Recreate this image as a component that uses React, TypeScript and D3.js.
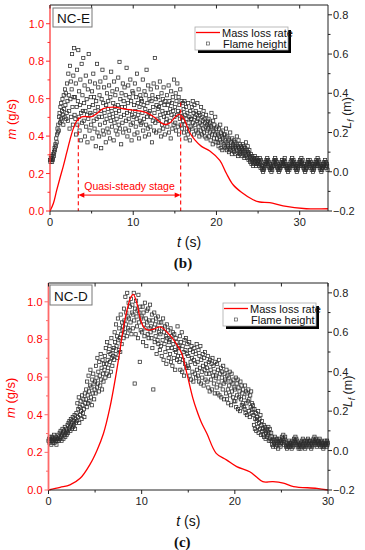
import * as d3 from "d3"

const FONT = "'Liberation Sans', Arial, sans-serif"
const SERIF = "'Liberation Serif', 'Times New Roman', serif"
const RED = "#ff0000"

// sampling step of the flame-height record (s)
const FLAME_DT = 0.05

// ---- (b) NC-E ----
const massTimeE = [0, 0.4, 0.8, 1.2, 1.6, 2.0, 2.4, 2.8, 3.2, 3.8, 5.0, 5.6, 6.4, 7.6, 9.2, 10.8, 11.6, 12.6, 13.4, 13.8, 14.4, 15.0, 15.5, 16.0, 16.8, 17.4, 18.2, 19.2, 20.4, 21.2, 22.0, 23.0, 24.4, 25.2, 26.4, 28.0, 30.8, 33.4]
const massRateE = [0, 0.04, 0.11, 0.176, 0.24, 0.31, 0.38, 0.44, 0.48, 0.503, 0.504, 0.52, 0.547, 0.555, 0.543, 0.534, 0.525, 0.498, 0.47, 0.462, 0.47, 0.5, 0.516, 0.498, 0.418, 0.38, 0.345, 0.32, 0.27, 0.2, 0.14, 0.1, 0.06, 0.048, 0.045, 0.027, 0.012, 0.012]
// flame height, cm
const flameE = [
  6, 5, 7, 6, 8, 5, 7, 6, 9, 8, 10, 12, 11, 14, 13, 17, 15, 19, 22, 20,
  24, 21, 28, 30, 25, 33, 27, 35, 26, 31, 37, 29, 24, 39, 32, 28, 42, 34, 40, 27,
  30, 45, 36, 26, 50, 39, 31, 22, 54, 37, 46, 28, 42, 60, 33, 24, 49, 38, 63, 29,
  38, 27, 45, 19, 33, 52, 24, 36, 62, 28, 41, 21, 34, 47, 16, 30, 55, 25, 39, 31,
  58, 26, 35, 44, 18, 31, 49, 23, 37, 29, 15, 42, 27, 60, 33, 21, 46, 30, 38, 24,
  29, 41, 17, 34, 50, 26, 38, 22, 45, 31, 13, 36, 27, 55, 20, 33, 43, 28, 18, 39,
  24, 46, 31, 12, 37, 28, 52, 21, 35, 19, 43, 30, 25, 48, 15, 34, 27, 40, 22, 32,
  36, 20, 44, 29, 17, 38, 26, 51, 31, 23, 41, 28, 35, 16, 46, 25, 33, 39, 21, 30,
  27, 42, 19, 34, 48, 24, 31, 56, 22, 37, 28, 14, 40, 33, 25, 45, 20, 36, 29, 43,
  33, 22, 39, 26, 53, 30, 18, 35, 44, 27, 21, 38, 31, 47, 24, 36, 16, 29, 41, 25,
  40, 28, 34, 19, 45, 31, 23, 38, 27, 50, 20, 35, 29, 42, 17, 33, 26, 39, 24, 37,
  25, 36, 30, 47, 21, 34, 27, 41, 18, 32, 39, 24, 52, 28, 35, 22, 44, 30, 19, 37,
  31, 23, 42, 28, 36, 15, 39, 26, 33, 45, 21, 30, 58, 25, 37, 20, 34, 43, 27, 32,
  38, 26, 33, 21, 46, 29, 35, 18, 40, 24, 31, 37, 22, 43, 28, 34, 19, 36, 30, 25,
  27, 39, 23, 34, 30, 44, 20, 36, 26, 32, 17, 41, 29, 35, 22, 38, 31, 24, 47, 28,
  33, 25, 40, 21, 36, 29, 45, 23, 31, 38, 19, 34, 27, 42, 24, 30, 36, 22, 28, 35,
  26, 32, 20, 36, 24, 29, 17, 33, 27, 22, 30, 19, 35, 25, 21, 28, 16, 31, 23, 27,
  27, 33, 22, 36, 25, 30, 19, 34, 28, 24, 31, 21, 29, 26, 35, 20, 27, 23, 30, 18,
  25, 29, 21, 33, 24, 19, 28, 26, 22, 31, 20, 27, 18, 25, 23, 29, 17, 24, 21, 26,
  22, 27, 18, 24, 20, 25, 16, 23, 30, 19, 22, 14, 26, 21, 17, 24, 19, 28, 15, 22,
  20, 17, 23, 15, 19, 13, 22, 18, 16, 24, 12, 20, 15, 18, 11, 21, 17, 14, 19, 13,
  16, 19, 12, 22, 15, 11, 18, 14, 13, 17, 10, 16, 12, 20, 11, 15, 13, 9, 17, 12,
  14, 11, 16, 10, 13, 15, 9, 12, 14, 18, 11, 13, 8, 16, 12, 10, 14, 9, 11, 13,
  10, 12, 8, 14, 11, 9, 13, 7, 10, 12, 8, 15, 9, 11, 7, 13, 10, 6, 9, 11,
  8, 5, 7, 9, 4, 6, 8, 5, 3, 7, 6, 4, 8, 5, 7, 3, 6, 4, 7, 5,
  4, 6, 3, 5, 7, 4, 2, 6, 5, 3, 1, 2, 0, 3, 1, 2, 4, 3, 5, 4,
  6, 5, 7, 4, 6, 3, 5, 2, 4, 1, 3, 2, 0, 2, 1, 3, 4, 5, 3, 6,
  5, 7, 4, 6, 3, 5, 2, 4, 1, 3, 0, 2, 1, 3, 2, 4, 5, 3, 6, 4,
  5, 3, 6, 4, 7, 5, 3, 4, 2, 3, 1, 2, 0, 2, 3, 1, 4, 2, 5, 3,
  6, 4, 7, 5, 3, 6, 4, 5, 2, 4, 3, 1, 2, 0, 3, 1, 2, 4, 3, 5,
  4, 6, 5, 3, 7, 5, 4, 6, 3, 2, 4, 1, 3, 0, 2, 1, 3, 2, 4, 5,
  6, 4, 5, 3, 6, 4, 2, 5, 3, 1, 4, 2, 0, 3, 1, 2, 4, 3, 5, 4,
  6, 5, 3, 7, 4, 6, 3, 5, 2, 4, 1, 3, 0, 2, 1, 3, 2, 4, 3, 5,
  4, 6, 3, 5, 2, 4, 3, 1,
]
// quasi-steady stage bounds (s) and the m value where each dashed line starts
const steadyT = [3.4, 15.7]
const steadyTop = [0.5, 0.58]

// ---- (c) NC-D ----
const massTimeD = [0, 1.25, 2.3, 3.4, 4.5, 5.2, 5.9, 6.6, 7.2, 7.6, 8.0, 8.4, 8.8, 9.1, 9.5, 9.8, 10.2, 10.7, 11.3, 12.0, 12.7, 13.4, 13.8, 14.3, 14.8, 15.5, 15.9, 16.4, 17.0, 18.0, 19.1, 20.2, 21.6, 22.3, 23.0, 24.1, 25.2, 26.3, 28.8, 30]
const massRateD = [0, 0.014, 0.027, 0.062, 0.14, 0.21, 0.3, 0.44, 0.6, 0.72, 0.85, 0.95, 1.02, 1.04, 0.99, 0.92, 0.867, 0.85, 0.855, 0.867, 0.84, 0.8, 0.77, 0.725, 0.63, 0.487, 0.425, 0.36, 0.3, 0.195, 0.16, 0.124, 0.097, 0.07, 0.044, 0.044, 0.036, 0.018, 0.009, 0]
const flameD = [
  5, 6, 4, 7, 5, 6, 3, 5, 7, 4, 6, 5, 8, 4, 6, 7, 5, 3, 6, 5,
  6, 8, 5, 7, 9, 6, 10, 7, 5, 8, 11, 9, 6, 10, 8, 12, 7, 9, 11, 8,
  10, 13, 9, 14, 11, 15, 12, 10, 16, 13, 11, 14, 17, 12, 15, 13, 18, 11, 16, 14,
  19, 15, 24, 17, 21, 27, 14, 22, 18, 25, 20, 16, 28, 23, 19, 26, 21, 17, 29, 24,
  26, 31, 22, 35, 28, 24, 38, 30, 25, 33, 41, 27, 32, 23, 36, 29, 39, 34, 26, 31,
  35, 29, 43, 37, 32, 47, 34, 40, 30, 45, 38, 33, 49, 36, 42, 31, 46, 39, 35, 44,
  41, 48, 37, 52, 44, 39, 55, 46, 42, 50, 38, 53, 45, 49, 40, 57, 47, 43, 51, 48,
  52, 46, 60, 55, 49, 64, 53, 58, 47, 67, 56, 51, 62, 57, 50, 69, 59, 54, 65, 61,
  63, 57, 72, 66, 60, 78, 64, 70, 58, 80, 68, 62, 75, 67, 61, 73, 65, 77, 59, 70,
  74, 62, 69, 80, 66, 34, 72, 59, 76, 68, 63, 71, 57, 79, 65, 70, 45, 73, 61, 67,
  68, 60, 73, 55, 70, 64, 58, 75, 62, 67, 53, 71, 65, 59, 72, 57, 66, 62, 74, 60,
  63, 57, 69, 52, 66, 31, 61, 70, 55, 64, 58, 67, 49, 62, 56, 68, 54, 60, 65, 51,
  59, 53, 65, 48, 62, 56, 67, 46, 60, 54, 63, 50, 58, 44, 64, 57, 52, 61, 47, 55,
  56, 49, 62, 45, 58, 52, 43, 60, 54, 47, 59, 51, 41, 57, 50, 55, 46, 63, 48, 53,
  52, 45, 58, 41, 55, 48, 60, 40, 53, 46, 50, 38, 56, 44, 51, 57, 42, 49, 54, 43,
  48, 42, 55, 38, 51, 45, 36, 53, 47, 40, 50, 35, 46, 52, 39, 44, 49, 37, 54, 41,
  45, 38, 51, 35, 48, 42, 53, 34, 46, 40, 37, 49, 43, 33, 47, 41, 50, 36, 44, 39,
  42, 35, 48, 32, 45, 39, 30, 46, 41, 36, 44, 31, 47, 38, 43, 34, 40, 29, 45, 37,
  38, 32, 44, 29, 41, 35, 46, 28, 39, 33, 42, 27, 37, 40, 31, 43, 34, 26, 39, 36,
  35, 29, 41, 26, 38, 31, 24, 37, 33, 40, 28, 35, 23, 39, 30, 34, 27, 36, 25, 32,
  31, 25, 37, 22, 34, 28, 36, 21, 32, 27, 30, 20, 35, 26, 33, 23, 29, 24, 31, 22,
  27, 21, 33, 19, 30, 24, 18, 29, 25, 31, 20, 26, 17, 28, 22, 30, 19, 24, 21, 23,
  18, 13, 21, 11, 16, 19, 10, 15, 17, 12, 20, 9, 14, 16, 11, 18, 8, 13, 15, 10,
  11, 8, 13, 7, 10, 12, 6, 9, 11, 7, 10, 8, 12, 5, 9, 11, 6, 5, 9, 7,
  3, 5, 2, 6, 4, 3, 7, 5, 2, 4, 6, 3, 5, 1, 4, 6, 3, 5, 2, 4,
  5, 7, 4, 6, 8, 5, 3, 6, 7, 4, 2, 3, 1, 4, 2, 3, 5, 2, 4, 3,
  2, 4, 1, 3, 5, 2, 4, 6, 3, 5, 7, 4, 6, 3, 5, 2, 4, 1, 3, 2,
  3, 1, 4, 2, 5, 3, 6, 4, 2, 5, 3, 1, 4, 2, 3, 5, 4, 6, 3, 5,
  4, 2, 5, 3, 1, 4, 2, 3, 5, 6, 4, 7, 5, 3, 6, 4, 2, 5, 3, 4,
  5, 3, 6, 4, 2, 5, 3, 4, 2, 3, 1, 4, 2, 3, 5, 3, 4, 2, 5, 3,
  4,
]

const mTicks = [0, 0.2, 0.4, 0.6, 0.8, 1.0]
const mMinor = [0.1, 0.3, 0.5, 0.7, 0.9]
const lTicks = [-0.2, 0, 0.2, 0.4, 0.6, 0.8]
const lMinor = [-0.1, 0.1, 0.3, 0.5, 0.7]
const tTicks = [0, 10, 20, 30]
const tMinor = [5, 15, 25]
const tTop = [0, 5, 10, 15, 20, 25, 30]

interface Box { l: number; r: number; t: number; b: number }

interface PanelProps {
  box: Box
  tMax: number
  massT: number[]
  massM: number[]
  flame: number[]
  tag: string
  tagBox: [number, number, number, number]
  legend: [number, number]
  caption: string
  leftColor: string
  leftWidth: number
  rightLabelX: number
  steady?: boolean
}

function Panel({ box, tMax, massT, massM, flame, tag, tagBox, legend, caption, leftColor, leftWidth, rightLabelX, steady }: PanelProps) {
  const x = d3.scaleLinear().domain([0, tMax]).range([box.l, box.r])
  const yM = d3.scaleLinear().domain([0, 1.1]).range([box.b, box.t])
  const yL = d3.scaleLinear().domain([-0.2, 0.85]).range([box.b, box.t])
  const line = d3
    .line<number>()
    .x((_, i) => x(massT[i]))
    .y((d) => yM(d))
    .curve(d3.curveCatmullRom)
  const midX = (box.l + box.r) / 2
  const fmt = d3.format(".1f")
  const [lx, ly] = legend

  return (
    <g fontFamily={FONT}>
      {/* flame height scatter */}
      <g fill="none" stroke="#2b2b2b" strokeWidth={0.75}>
        {flame.map((v, i) => {
          const t = i * FLAME_DT
          if (t > tMax) return null
          return <rect key={i} x={x(t) - 1.6} y={yL(v / 100) - 1.6} width={3.2} height={3.2} />
        })}
      </g>

      {/* quasi-steady annotations */}
      {steady && (
        <g stroke={RED} fill={RED}>
          {steadyT.map((t, i) => (
            <line key={i} x1={x(t)} x2={x(t)} y1={yM(steadyTop[i])} y2={box.b} strokeWidth={1.1} strokeDasharray="4,3" />
          ))}
          <line x1={x(steadyT[0]) + 4} x2={x(steadyT[1]) - 4} y1={yM(0.085)} y2={yM(0.085)} strokeWidth={1} />
          <path d={`M${x(steadyT[0])},${yM(0.085)} l6,-2.6 v5.2 z`} stroke="none" />
          <path d={`M${x(steadyT[1])},${yM(0.085)} l-6,-2.6 v5.2 z`} stroke="none" />
          <text x={(x(steadyT[0]) + x(steadyT[1])) / 2} y={yM(0.085) - 5} textAnchor="middle" fontSize={10.5} stroke="none">
            Quasi-steady stage
          </text>
        </g>
      )}

      {/* mass loss rate */}
      <path d={line(massM) ?? undefined} fill="none" stroke={RED} strokeWidth={1.3} />

      {/* frame */}
      <line x1={box.l} x2={box.r} y1={box.t} y2={box.t} stroke="#222" strokeWidth={1} />
      <line x1={box.r} x2={box.r} y1={box.t} y2={box.b} stroke="#222" strokeWidth={1} />
      <line x1={box.l} x2={box.r} y1={box.b} y2={box.b} stroke="#222" strokeWidth={1} />
      <line x1={box.l} x2={box.l} y1={box.t} y2={box.b + 0.5} stroke={leftColor} strokeWidth={leftWidth} />

      {/* bottom axis */}
      {tTicks.filter((t) => t <= tMax).map((t) => (
        <g key={t}>
          <line x1={x(t)} x2={x(t)} y1={box.b} y2={box.b + 4} stroke="#222" />
          <text x={x(t)} y={box.b + 15} textAnchor="middle" fontSize={11} fill="#222">{t}</text>
        </g>
      ))}
      {tMinor.filter((t) => t <= tMax).map((t) => (
        <line key={t} x1={x(t)} x2={x(t)} y1={box.b} y2={box.b + 2.5} stroke="#222" />
      ))}
      {tTop.filter((t) => t <= tMax).map((t) => (
        <line key={t} x1={x(t)} x2={x(t)} y1={box.t} y2={box.t + 3.5} stroke="#222" />
      ))}

      {/* left axis: mass loss rate */}
      {mTicks.map((v) => (
        <g key={v}>
          <line x1={box.l - 4} x2={box.l} y1={yM(v)} y2={yM(v)} stroke={leftColor} />
          <text x={box.l - 6} y={yM(v) + 4} textAnchor="end" fontSize={11} fill={RED}>{fmt(v)}</text>
        </g>
      ))}
      {mMinor.map((v) => (
        <line key={v} x1={box.l - 2.5} x2={box.l} y1={yM(v)} y2={yM(v)} stroke={leftColor} />
      ))}

      {/* right axis: flame height */}
      {lTicks.map((v) => (
        <g key={v}>
          <line x1={box.r} x2={box.r + 4} y1={yL(v)} y2={yL(v)} stroke="#222" />
          <text x={box.r + 5} y={yL(v) + 4} fontSize={11} fill="#222">{fmt(v)}</text>
        </g>
      ))}
      {lMinor.map((v) => (
        <line key={v} x1={box.r} x2={box.r + 2.5} y1={yL(v)} y2={yL(v)} stroke="#222" />
      ))}

      {/* axis titles */}
      <text transform={`translate(${box.l - 34},${yM(0.49)}) rotate(-90)`} textAnchor="middle" fontSize={13} fill={RED}>
        <tspan fontStyle="italic">m</tspan> (g/s)
      </text>
      <text transform={`translate(${rightLabelX},${yL(0.3)}) rotate(-90)`} textAnchor="middle" fontSize={12.5} fill="#222">
        <tspan fontStyle="italic">L</tspan>
        <tspan fontStyle="italic" fontSize={8.5} dy={3}>f</tspan>
        <tspan dy={-3}> (m)</tspan>
      </text>
      <text x={midX} y={box.b + 36} textAnchor="middle" fontSize={14} fill="#111">
        <tspan fontStyle="italic">t</tspan> (s)
      </text>
      <text x={midX - 6} y={box.b + 57} textAnchor="middle" fontSize={15} fontWeight="bold" fontFamily={SERIF} fill="#111">
        {caption}
      </text>

      {/* sample tag */}
      <rect x={tagBox[0]} y={tagBox[1]} width={tagBox[2]} height={tagBox[3]} fill="white" stroke="#777" strokeWidth={1} />
      <text x={tagBox[0] + 4} y={tagBox[1] + tagBox[3] - 4.5} fontSize={13.5} fill="#111">{tag}</text>

      {/* legend */}
      <rect x={lx + 3} y={ly + 3} width={93} height={23} fill="#000" />
      <rect x={lx} y={ly} width={93} height={23} fill="white" stroke="#aaa" strokeWidth={0.8} />
      <line x1={lx + 1} x2={lx + 25} y1={ly + 5.5} y2={ly + 5.5} stroke={RED} strokeWidth={1.3} />
      <text x={lx + 27} y={ly + 9.5} fontSize={11} fill="#111">Mass loss rate</text>
      <rect x={lx + 11.5} y={ly + 15} width={3} height={3} fill="none" stroke="#555" strokeWidth={0.7} />
      <text x={lx + 28} y={ly + 20.5} fontSize={11} fill="#111">Flame height</text>
    </g>
  )
}

export default function App() {
  return (
    <svg
      width={365}
      height={550}
      viewBox="0 0 365 550"
      style={{ position: "absolute", left: 0, top: 0, background: "white" }}
    >
      <Panel
        box={{ l: 50, r: 328, t: 5, b: 211 }}
        tMax={33.4}
        massT={massTimeE}
        massM={massRateE}
        flame={flameE}
        tag="NC-E"
        tagBox={[53, 8, 39, 19]}
        legend={[195, 27]}
        caption="(b)"
        leftColor="#ff2a2a"
        leftWidth={1.2}
        rightLabelX={351}
        steady
      />
      <Panel
        box={{ l: 48.5, r: 328, t: 283, b: 490 }}
        tMax={30}
        massT={massTimeD}
        massM={massRateD}
        flame={flameD}
        tag="NC-D"
        tagBox={[50, 285, 42, 20]}
        legend={[223, 303]}
        caption="(c)"
        leftColor="#ff6a6a"
        leftWidth={1.8}
        rightLabelX={352}
      />
    </svg>
  )
}
